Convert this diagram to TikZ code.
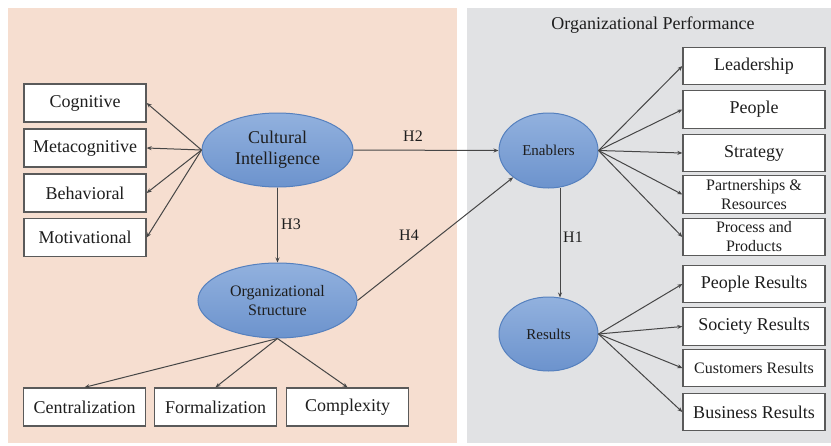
\documentclass[tikz,border=0pt]{standalone}
\usepackage{fontspec}
\setmainfont{Liberation Serif}
\newfontfamily\tnr{Liberation Serif}
\usetikzlibrary{shapes.geometric,arrows.meta,calc}
\definecolor{peach}{RGB}{246,222,208}
\definecolor{panelgray}{RGB}{225,226,228}
\definecolor{txt}{RGB}{30,30,30}
\definecolor{ellborder}{RGB}{85,128,190}
\definecolor{elltop}{RGB}{146,177,222}
\definecolor{ellbot}{RGB}{108,147,205}
\definecolor{boxborder}{RGB}{90,90,90}
\definecolor{conn}{RGB}{70,70,70}
\tikzset{
  boxnode/.style={draw=boxborder, line width=1.3pt, fill=white, text=txt, align=center, inner sep=1pt},
  leftbox/.style={boxnode, minimum width=122pt, minimum height=38pt, font=\tnr\fontsize{18}{20}\selectfont},
  rightbox/.style={boxnode, minimum width=142pt, minimum height=37.5pt, font=\tnr\fontsize{18}{20}\selectfont},
  ell/.style={ellipse, draw=ellborder, line width=1pt, top color=elltop, bottom color=ellbot, text=txt, align=center, inner sep=0pt},
  link/.style={draw=conn, line width=1pt, -{Stealth[length=5pt,width=4pt]}},
  hlabel/.style={text=txt, font=\tnr\fontsize{16}{18}\selectfont, inner sep=0pt}
}
\begin{document}
\begin{tikzpicture}[x=1pt,y=-1pt]
\useasboundingbox (0,0) rectangle (831,445);
\fill[peach] (8,8) rectangle (457,443);
\fill[panelgray] (467,8) rectangle (831,443);

\node[text=txt, font=\tnr\fontsize{18}{20}\selectfont] (title) at (653,25) {Organizational Performance};

% left boxes
\node[leftbox] (cog) at (85,103) {Cognitive};
\node[leftbox] (meta) at (85,148) {Metacognitive};
\node[leftbox] (beh) at (85,193) {Behavioral};
\node[leftbox] (mot) at (85,237.5) {Motivational};

% bottom boxes
\node[leftbox] (cen) at (84.5,407) {Centralization};
\node[leftbox] (form) at (215.5,407) {Formalization};
\node[leftbox] (comp) at (347.5,407) {Complexity};

% ellipses
\node[ell, minimum width=151pt, minimum height=74pt, font=\tnr\fontsize{18}{21}\selectfont] (ci) at (277.5,150) {Cultural\\Intelligence};
\node[ell, minimum width=159pt, minimum height=75pt, font=\tnr\fontsize{16}{19}\selectfont] (os) at (277.5,300.5) {Organizational\\Structure};
\node[ell, minimum width=99pt, minimum height=75pt, font=\tnr\fontsize{15}{18}\selectfont] (en) at (548.5,150.5) {Enablers};
\node[ell, minimum width=99pt, minimum height=74pt, font=\tnr\fontsize{15}{18}\selectfont] (rs) at (548.5,334) {Results};

% right boxes
\node[rightbox] (lead) at (754,66) {Leadership};
\node[rightbox] (peo) at (754,109.5) {People};
\node[rightbox] (str) at (754,153) {Strategy};
\node[rightbox, font=\tnr\fontsize{16}{19}\selectfont] (part) at (754,194.5) {Partnerships \&\\Resources};
\node[rightbox, font=\tnr\fontsize{16}{19}\selectfont] (proc) at (754,237) {Process and\\Products};
\node[rightbox] (pr) at (754,284) {People Results};
\node[rightbox] (sr) at (754,326.5) {Society Results};
\node[rightbox, font=\tnr\fontsize{16}{19}\selectfont] (cr) at (754,368) {Customers Results};
\node[rightbox] (br) at (754,412) {Business Results};

% CI to dimensions
\foreach \b in {cog,meta,beh,mot} \draw[link] (ci.west) -- (\b.east);
% OS to dimensions
\foreach \b in {cen,form,comp} \draw[link] (os.south) -- (\b.north);
% Enablers to criteria
\foreach \b in {lead,peo,str,part,proc} \draw[link] (en.east) -- (\b.west);
% Results to criteria
\foreach \b in {pr,sr,cr,br} \draw[link] (rs.east) -- (\b.west);

% hypotheses
\draw[link] (ci.south) -- (os.north);
\draw[link] (ci.east) -- (en.west);
\draw[link] (os.east) -- (en.south west);
\coordinate (h1a) at ($(en.south)+(11.5,-1)$);
\coordinate (h1b) at ($(rs.north)+(11.5,1)$);
\draw[link] (h1a) -- (h1b);

\node[hlabel] (h2) at (413,136) {H2};
\node[hlabel] (h3) at (291,224) {H3};
\node[hlabel] (h4) at (409,235) {H4};
\node[hlabel] (h1) at (573,237) {H1};
\end{tikzpicture}
\end{document}
